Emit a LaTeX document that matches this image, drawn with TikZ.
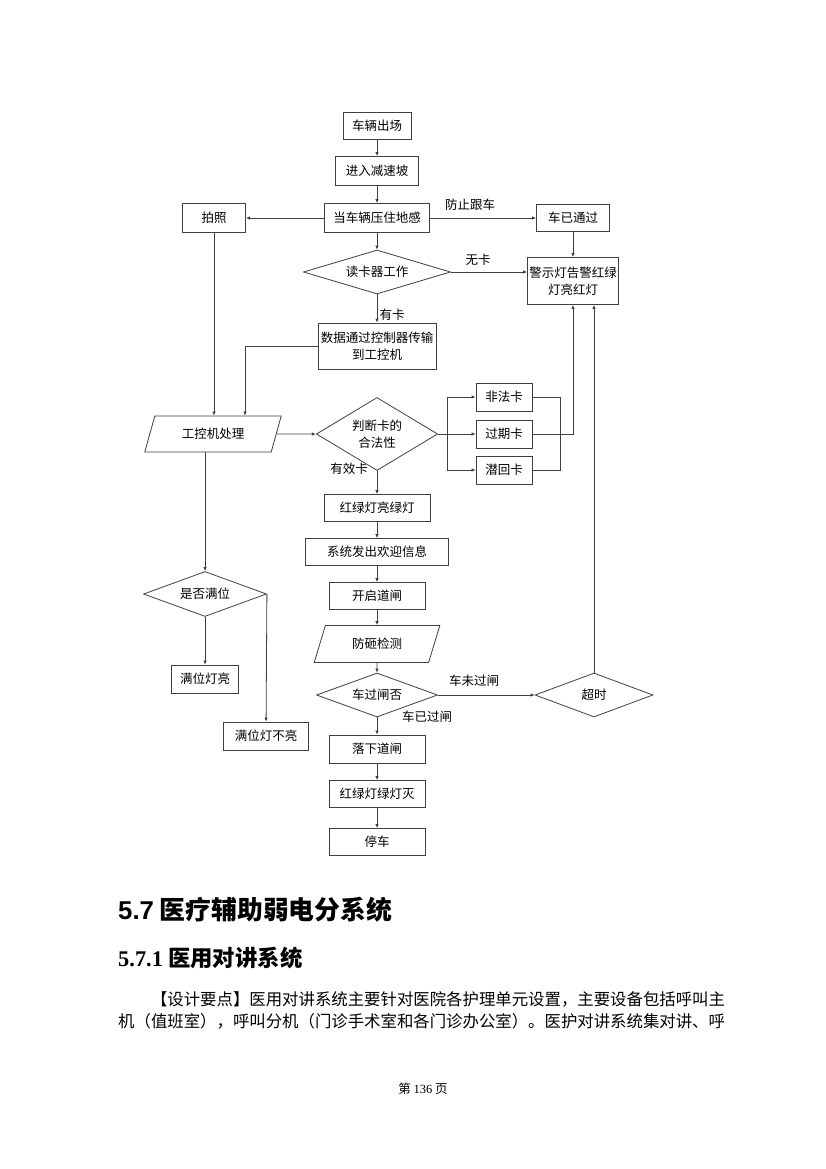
\documentclass[tikz,border=0pt]{standalone}
\usepackage{fontspec}
\setmainfont{Noto Sans CJK SC}
\newfontfamily\tnr{Liberation Serif}
\newfontfamily\arl{Liberation Sans}
\usetikzlibrary{shapes.geometric,arrows.meta}

\begin{document}
\begin{tikzpicture}
  [x=1pt,y=-1pt,
   every node/.style={font=\fontsize{12.5}{17}\selectfont,inner sep=1pt},
   blk/.style={draw=black!75,line width=0.8pt,rectangle,align=center},
   dec/.style={draw=black!75,line width=0.8pt,diamond,aspect=2.5,inner sep=0pt,align=center},
   io/.style={draw=black!75,line width=0.8pt,trapezium,trapezium left angle=65,
     trapezium right angle=115,trapezium stretches=true,inner sep=0pt},
   arr/.style={draw=black!75,line width=0.8pt,-{Latex[length=4pt,width=3.5pt]}}]
  \fill[white] (0,0) rectangle (826,1169);
  \useasboundingbox (0,0) rectangle (826,1169);

  % main column
  \node[blk,minimum width=68,minimum height=27] (n1) at (377,126) {车辆出场};
  \node[blk,minimum width=83,minimum height=29] (n2) at (377,171) {进入减速坡};
  \node[blk,minimum width=105,minimum height=29] (n3) at (377,218) {当车辆压住地感};
  \node[blk,minimum width=63,minimum height=29] (pz) at (214,218) {拍照};
  \node[blk,minimum width=73,minimum height=27] (tg) at (573,218) {车已通过};
  \node[dec,minimum width=147,minimum height=44] (dk) at (377,272) {读卡器工作};
  \node[blk,minimum width=91,minimum height=47] (jg) at (573,281) {警示灯告警红绿\\灯亮红灯};
  \node[blk,minimum width=118,minimum height=46] (sj) at (377,346) {数据通过控制器传输\\到工控机};
  \node[io,minimum width=137,minimum height=36] (gk) at (213,434) {工控机处理};
  \node[dec,minimum width=116,minimum height=73] (hf) at (377,434) {判断卡的\\合法性};
  \node[blk,minimum width=56,minimum height=28] (ff) at (504,397) {非法卡};
  \node[blk,minimum width=56,minimum height=28] (gq) at (504,434) {过期卡};
  \node[blk,minimum width=56,minimum height=28] (qh) at (504,470) {潜回卡};
  \node[blk,minimum width=106,minimum height=27] (ld) at (377,508) {红绿灯亮绿灯};
  \node[blk,minimum width=143,minimum height=27] (hy) at (377,552) {系统发出欢迎信息};
  \node[blk,minimum width=96,minimum height=27] (kq) at (377,596) {开启道闸};
  \node[io,minimum width=126,minimum height=37] (fz) at (377,644) {防砸检测};
  \node[dec,minimum width=121,minimum height=44] (gz) at (377,695) {车过闸否};
  \node[dec,minimum width=118,minimum height=44] (cs) at (594,695) {超时};
  \node[blk,minimum width=96,minimum height=28] (lx) at (377,749) {落下道闸};
  \node[blk,minimum width=96,minimum height=27] (lm) at (377,794) {红绿灯绿灯灭};
  \node[blk,minimum width=96,minimum height=27] (tc) at (377,842) {停车};
  % left column
  \node[dec,minimum width=123,minimum height=45] (mw) at (205,594) {是否满位};
  \node[blk,minimum width=67,minimum height=28] (ml) at (205,679) {满位灯亮};
  \node[blk,minimum width=85,minimum height=28] (mb) at (266,736) {满位灯不亮};

  % labels
  \node (l1) at (470,205) {防止跟车};
  \node (l2) at (478,260) {无卡};
  \node (l3) at (392,315) {有卡};
  \node (l4) at (349,469) {有效卡};
  \node (l5) at (474,681) {车未过闸};
  \node (l6) at (427,717) {车已过闸};

  \foreach \from/\to in {n1/n2,n2/n3,n3/pz,n3/tg,n3/dk,tg/jg,dk/sj,gk/hf,hf/gq,
      hf/ld,ld/hy,hy/kq,kq/fz,fz/gz,gz/lx,lx/lm,lm/tc,gz/cs,mw/ml}
    \draw[arr] (\from) -- (\to);

  \coordinate (c1) at (245,0);
  \coordinate (c2) at (447,0);
  \coordinate (c3) at (560,0);
  \draw[arr] (dk) -- (dk -| jg.west);
  \draw[arr] (pz) -- (pz |- gk.north);
  \draw[arr] (sj.west) -| (gk.north -| c1);
  \draw[arr] (hf.east -| c2) |- (ff);
  \draw[arr] (hf.east -| c2) |- (qh);
  \draw[draw=black!75,line width=0.8pt] (ff.east) -| (c3 |- qh) -- (qh.east);
  \draw[arr] (gq) -| (jg.south);
  \draw[arr] (cs) -- (cs |- jg.south);
  \draw[arr] (gk.south -| mw) -- (mw);
  \draw[arr] (mw.east) -- (mb);

  % text below the chart
  \node[anchor=west,inner sep=0pt,font=\fontsize{25.8}{30}\selectfont\bfseries] (h1) at (118,910)
    {{\arl 5.7} 医疗辅助弱电分系统};
  \node[anchor=west,inner sep=0pt,font=\fontsize{22.4}{26}\selectfont\bfseries] (h2) at (118,958)
    {{\tnr 5.7.1} 医用对讲系统};
  \node[anchor=west,inner sep=0pt,font=\fontsize{16.4}{22}\selectfont] (p1) at (118,999)
    {\hspace*{2em}【设计要点】医用对讲系统主要针对医院各护理单元设置，主要设备包括呼叫主};
  \node[anchor=west,inner sep=0pt,font=\fontsize{16.4}{22}\selectfont] (p2) at (118,1021)
    {机（值班室），呼叫分机（门诊手术室和各门诊办公室）。医护对讲系统集对讲、呼};
  \node[font=\fontsize{12.5}{15}\selectfont] (pg) at (423,1089) {第 {\tnr 136} 页};
\end{tikzpicture}
\end{document}
